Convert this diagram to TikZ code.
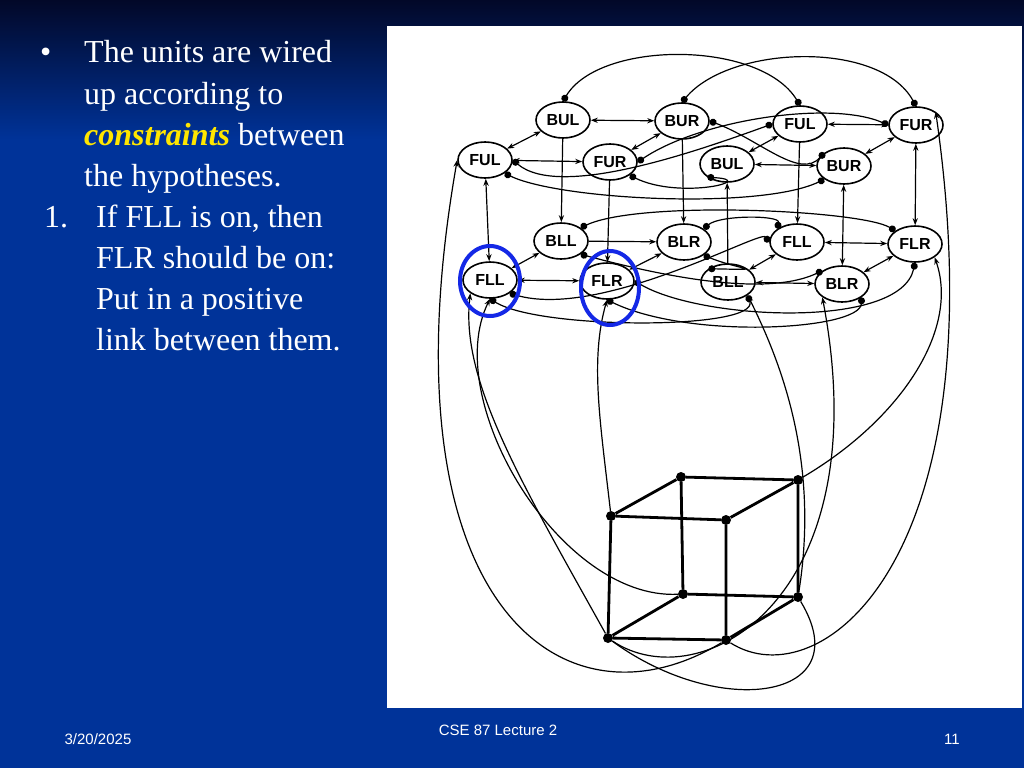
\documentclass[tikz,border=0pt]{standalone}
\usepackage{fontspec}
\setmainfont{Liberation Serif}
\newfontfamily\sansf{Liberation Sans}
\usetikzlibrary{shapes.geometric,arrows.meta}
\definecolor{bg}{RGB}{0,51,153}
\definecolor{bgtop}{RGB}{2,8,40}
\definecolor{ring}{RGB}{20,40,230}
\definecolor{hl}{RGB}{255,230,0}
\begin{document}
\begin{tikzpicture}[x=1pt,y=-1pt,
  unit/.style={ellipse,draw,line width=1.6pt,minimum width=54pt,minimum height=36pt,inner sep=0pt,font=\sansf\bfseries\fontsize{16}{16}\selectfont},
  lnk/.style={line width=1.2pt,{Stealth[length=7pt]}-{Stealth[length=7pt]}},
  one/.style={line width=1.2pt,-{Stealth[length=7pt]}},
  inh2/.style={line width=1.2pt,{Circle[length=7pt]}-{Circle[length=7pt]}},
  edge/.style={line width=2.8pt},
  vtx/.style={circle,fill,inner sep=0pt,minimum size=10pt},
  txt/.style={anchor=base west,text=white,font=\fontsize{32}{32}\selectfont,inner sep=0pt},
  foot/.style={text=white,font=\sansf\fontsize{15}{15}\selectfont,inner sep=0pt}]
\useasboundingbox (0,0) rectangle (1024,768);
\fill[bg] (0,0) rectangle (1024,768);
\shade[top color=bgtop,bottom color=bg] (0,0) rectangle (1024,140);
\fill[white] (387,26) rectangle (1022,708);
% text
\node[txt] (b1) at (40,63) {\textbullet};
\node[txt] (t1) at (84,63) {The units are wired};
\node[txt] (t2) at (84,104) {up according to};
\node[txt] (t3) at (84,145) {\textcolor{hl}{\textbf{\textit{constraints}}} between};
\node[txt] (t4) at (84,186) {the hypotheses.};
\node[txt] (n1) at (44,227) {1.};
\node[txt] (t5) at (96,227) {If FLL is on, then};
\node[txt] (t6) at (96,268) {FLR should be on:};
\node[txt] (t7) at (96,309) {Put in a positive};
\node[txt] (t8) at (96,350) {link between them.};
\node[foot] (d) at (98,739) {3/20/2025};
\node[foot] (c) at (498,730) {CSE 87 Lecture 2};
\node[foot] (p) at (952,739) {11};
% units
\node[unit] (BUL1) at (563,120) {BUL};
\node[unit] (BUR1) at (682,121) {BUR};
\node[unit] (FUL1) at (800,124) {FUL};
\node[unit] (FUR1) at (916,125) {FUR};
\node[unit] (FUL2) at (485,160) {FUL};
\node[unit] (FUR2) at (610,162) {FUR};
\node[unit] (BUL2) at (727,164) {BUL};
\node[unit] (BUR2) at (844,166) {BUR};
\node[unit] (BLL3) at (561,241) {BLL};
\node[unit] (BLR3) at (684,242) {BLR};
\node[unit] (FLL3) at (797,242) {FLL};
\node[unit] (FLR3) at (915,244) {FLR};
\node[unit] (FLL4) at (490,280) {FLL};
\node[unit] (FLR4) at (607,281) {FLR};
\node[unit] (BLL4) at (728,282) {BLL};
\node[unit] (BLR4) at (842,284) {BLR};
% horizontal
\draw[lnk] (BUL1) -- (BUR1);
\draw[lnk] (FUL1) -- (FUR1);
\draw[lnk] (FUL2) -- (FUR2);
\draw[lnk] (BUL2) -- (BUR2);
\draw[one] (BLL3) -- (BLR3);
\draw[lnk] (FLL3) -- (FLR3);
\draw[lnk] (FLL4) -- (FLR4);
\draw[lnk] (BLL4) -- (BLR4);
% diagonals
\draw[lnk] (BUL1) -- (FUL2);
\draw[lnk] (BUR1) -- (FUR2);
\draw[lnk] (FUL1) -- (BUL2);
\draw[lnk] (FUR1) -- (BUR2);
\draw[lnk] (BLL3) -- (FLL4);
\draw[lnk] (BLR3) -- (FLR4);
\draw[lnk] (FLL3) -- (BLL4);
\draw[lnk] (FLR3) -- (BLR4);
% verticals
\draw[lnk] (FUL2) -- (FLL4);
\draw[one] (BUL1) -- (BLL3);
\draw[one] (FUR2) -- (FLR4);
\draw[one] (BUR1) -- (BLR3);
\draw[one] (BLL4) -- (BUL2);
\draw[one] (FUL1) -- (FLL3);
\draw[lnk] (BUR2) -- (BLR4);
\draw[lnk] (FUR1) -- (FLR3);
% inhibitory curves
\draw[inh2] (BUL1.north) .. controls (600,40) and (760,40) .. (FUL1.north);
\draw[inh2] (BUR1.north) .. controls (730,45) and (880,40) .. (FUR1.north);
\draw[inh2] (FUL2.south east) .. controls (560,200) and (760,210) .. (BUR2.south west);
\draw[inh2] (FUR2.east) .. controls (700,120) and (830,100) .. (FUR1.west);
\draw[inh2] (FUR2.south east) .. controls (680,200) and (760,180) .. (BUL2.south west);
\draw[inh2] (FUL2.east) .. controls (560,200) and (700,150) .. (FUL1.west);
\draw[inh2] (BUR1.east) .. controls (760,140) and (800,180) .. (BUR2.north west);
\draw[inh2] (BLL3.north east) .. controls (640,200) and (860,210) .. (FLR3.north west);
\draw[inh2] (BLR3.north east) .. controls (720,215) and (780,215) .. (FLL3.north west);
\draw[inh2] (BLL3.south east) .. controls (640,270) and (760,300) .. (BLR4.north west);
\draw[inh2] (BLR3.south east) .. controls (740,270) and (770,270) .. (BLL4.north west);
\draw[inh2] (FLL4.south) .. controls (540,330) and (760,330) .. (BLL4.south east);
\draw[inh2] (FLR4.south) .. controls (690,340) and (860,330) .. (BLR4.south east);
\draw[inh2] (FLL4.south east) .. controls (600,320) and (760,230) .. (FLL3.west);
\draw[inh2] (FLR4.east) .. controls (700,320) and (900,330) .. (FLR3.south);
% cube
\node[vtx] (A) at (611,516) {};
\node[vtx] (B) at (681,477) {};
\node[vtx] (C) at (798,480) {};
\node[vtx] (D) at (726,520) {};
\node[vtx] (E) at (683,594) {};
\node[vtx] (F) at (798,597) {};
\node[vtx] (G) at (608,638) {};
\node[vtx] (H) at (726,640) {};
\draw[edge] (A)--(B) (B)--(C) (A)--(D) (D)--(C) (A)--(G) (B)--(E) (C)--(F) (D)--(H) (E)--(F) (G)--(E) (G)--(H) (H)--(F);
% cube to network
\draw[one] (H) .. controls (560,740) and (380,600) .. (FUL2.west);
\draw[one] (G) .. controls (520,480) and (460,380) .. (FLL4.south west);
\draw[one] (A) .. controls (600,420) and (590,360) .. (FLR4.south);
\draw[one] (F) .. controls (820,460) and (780,360) .. (BLL4.south east);
\draw[one] (G) .. controls (700,700) and (880,600) .. (BLR4.south west);
\draw[one] (C) .. controls (900,420) and (960,330) .. (FLR3.south east);
\draw[one] (E) .. controls (560,600) and (440,400) .. (FLL4.south);
\draw[one] (H) .. controls (820,700) and (1000,560) .. (FUR1.north east);
\draw[line width=1.2pt] (G) .. controls (720,720) and (860,700) .. (F);
% rings
\draw[ring,line width=4pt] (490,281) ellipse (30pt and 35pt);
\draw[ring,line width=4pt] (610,288) ellipse (29pt and 37pt);
\end{tikzpicture}
\end{document}
